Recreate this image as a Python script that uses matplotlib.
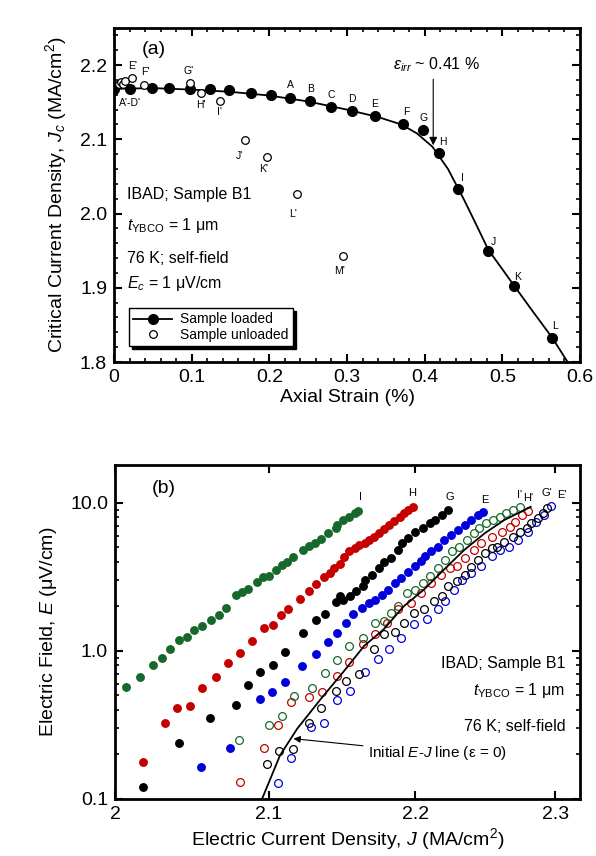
import matplotlib.pyplot as plt
import numpy as np
from matplotlib.ticker import MultipleLocator, FixedLocator, FixedFormatter, NullLocator, NullFormatter, LogLocator

plt.rcParams['font.family'] = ['Liberation Sans', 'DejaVu Sans']
plt.rcParams['mathtext.fontset'] = 'custom'
plt.rcParams['mathtext.rm'] = 'Liberation Sans'
plt.rcParams['mathtext.it'] = 'Liberation Sans:italic'
plt.rcParams['mathtext.bf'] = 'Liberation Sans:bold'

# ---------------- (a) Jc vs axial strain ----------------
strain_loaded = [0.000, 0.021, 0.049, 0.071, 0.098, 0.124, 0.148, 0.176, 0.202, 0.227, 0.252,
                 0.280, 0.306, 0.336, 0.372, 0.398, 0.418, 0.443, 0.482, 0.515, 0.564]
jc_loaded = [2.168, 2.168, 2.169, 2.169, 2.168, 2.168, 2.166, 2.163, 2.160, 2.156, 2.151,
             2.144, 2.138, 2.131, 2.121, 2.112, 2.081, 2.033, 1.950, 1.903, 1.833]

strain_unloaded = [0.006, 0.009, 0.012, 0.014, 0.023, 0.039, 0.098, 0.112, 0.136, 0.169, 0.197, 0.235, 0.295]
jc_unloaded = [2.174, 2.177, 2.175, 2.178, 2.182, 2.173, 2.176, 2.163, 2.152, 2.099, 2.076, 2.026, 1.943]

# fitted curve
strain_fit = [0.000, 0.05, 0.10, 0.15, 0.20, 0.25, 0.30, 0.34, 0.37, 0.39, 0.41, 0.43, 0.45,
              0.465, 0.482, 0.50, 0.515, 0.54, 0.564, 0.584]
jc_fit = [2.168, 2.169, 2.167, 2.164, 2.159, 2.151, 2.140, 2.130, 2.120, 2.108, 2.090, 2.060, 2.020,
          1.988, 1.951, 1.925, 1.903, 1.867, 1.833, 1.800]

strain_ticks = [0, 0.1, 0.2, 0.3, 0.4, 0.5, 0.6]
strain_ticklabels = ['0', '0.1', '0.2', '0.3', '0.4', '0.5', '0.6']
jc_ticks = [1.8, 1.9, 2.0, 2.1, 2.2]
jc_ticklabels = ['1.8', '1.9', '2.0', '2.1', '2.2']

# point labels (text, strain, Jc)
labels_a = [('A', 0.227, 2.173), ('B', 0.253, 2.168), ('C', 0.280, 2.160), ('D', 0.306, 2.154),
            ('E', 0.336, 2.147), ('F', 0.376, 2.137), ('G', 0.399, 2.129), ('H', 0.423, 2.096),
            ('I', 0.448, 2.048), ('J', 0.488, 1.962), ('K', 0.519, 1.915), ('L', 0.568, 1.848),
            ("E'", 0.024, 2.199), ("F'", 0.041, 2.191), ("G'", 0.096, 2.192), ("A'-D'", 0.021, 2.149),
            ("H'", 0.112, 2.146), ("I'", 0.136, 2.137), ("J'", 0.162, 2.078), ("K'", 0.192, 2.060),
            ("L'", 0.230, 2.000), ("M'", 0.290, 1.923)]

# ---------------- (b) E-J curves ----------------
J_I = [2.007, 2.016, 2.024, 2.030, 2.035, 2.041, 2.046, 2.051, 2.056, 2.062, 2.067, 2.072, 2.078, 2.082,
       2.086, 2.092, 2.096, 2.100, 2.105, 2.109, 2.112, 2.116, 2.123, 2.127, 2.131, 2.135, 2.140, 2.145,
       2.146, 2.150, 2.154, 2.158, 2.160]
E_I = [0.573, 0.666, 0.798, 0.893, 1.027, 1.192, 1.242, 1.377, 1.472, 1.624, 1.744, 1.956, 2.376, 2.489,
       2.623, 2.923, 3.138, 3.206, 3.518, 3.778, 3.981, 4.321, 4.764, 5.146, 5.390, 5.680, 6.231, 6.764,
       7.085, 7.655, 8.054, 8.569, 8.796]

J_H = [2.018, 2.032, 2.040, 2.048, 2.056, 2.065, 2.073, 2.081, 2.089, 2.097, 2.103, 2.108, 2.113, 2.121,
       2.127, 2.132, 2.137, 2.141, 2.144, 2.148, 2.151, 2.154, 2.158, 2.161, 2.165, 2.168, 2.171, 2.175,
       2.178, 2.182, 2.185, 2.189, 2.192, 2.195, 2.198]
E_H = [0.178, 0.327, 0.411, 0.427, 0.562, 0.669, 0.827, 0.961, 1.162, 1.420, 1.494, 1.736, 1.926, 2.247,
       2.527, 2.817, 3.138, 3.359, 3.628, 3.860, 4.300, 4.700, 4.943, 5.202, 5.390, 5.619, 5.858, 6.231,
       6.630, 7.085, 7.572, 8.054, 8.490, 8.933, 9.314]

J_G = [2.018, 2.041, 2.061, 2.078, 2.086, 2.094, 2.103, 2.111, 2.123, 2.132, 2.138, 2.145, 2.148, 2.150,
       2.155, 2.159, 2.164, 2.165, 2.170, 2.175, 2.178, 2.183, 2.188, 2.191, 2.195, 2.200, 2.205, 2.210,
       2.214, 2.219, 2.223]
E_G = [0.121, 0.238, 0.355, 0.432, 0.589, 0.725, 0.804, 0.980, 1.315, 1.615, 1.771, 2.133, 2.340, 2.223,
       2.340, 2.527, 2.731, 3.028, 3.272, 3.628, 3.957, 4.235, 4.815, 5.340, 5.768, 6.388, 6.733, 7.274,
       7.655, 8.270, 8.933]

J_E = [2.055, 2.074, 2.094, 2.102, 2.111, 2.122, 2.132, 2.140, 2.146, 2.152, 2.157, 2.163, 2.168, 2.172,
       2.177, 2.181, 2.186, 2.190, 2.195, 2.200, 2.204, 2.207, 2.211, 2.216, 2.220, 2.225, 2.230, 2.235,
       2.239, 2.244, 2.248]
E_E = [0.165, 0.221, 0.471, 0.528, 0.619, 0.786, 0.950, 1.156, 1.329, 1.535, 1.763, 1.956, 2.113, 2.223,
       2.402, 2.595, 2.878, 3.109, 3.390, 3.720, 4.018, 4.341, 4.690, 5.068, 5.619, 6.070, 6.558, 7.085,
       7.655, 8.270, 8.700]

J_Ip = [2.080, 2.100, 2.109, 2.117, 2.129, 2.138, 2.146, 2.154, 2.164, 2.172, 2.178, 2.183, 2.188, 2.194,
        2.200, 2.205, 2.210, 2.216, 2.221, 2.226, 2.231, 2.236, 2.241, 2.245, 2.250, 2.255, 2.260, 2.264,
        2.269, 2.274]
E_Ip = [0.249, 0.317, 0.363, 0.499, 0.562, 0.708, 0.866, 1.080, 1.230, 1.551, 1.600, 1.810, 2.005, 2.466,
        2.595, 2.878, 3.186, 3.628, 4.125, 4.690, 5.068, 5.619, 6.231, 6.733, 7.274, 7.655, 8.054, 8.490,
        8.933, 9.314]

J_Hp = [2.081, 2.097, 2.106, 2.115, 2.127, 2.136, 2.146, 2.154, 2.164, 2.172, 2.180, 2.188, 2.197, 2.204,
        2.211, 2.218, 2.224, 2.229, 2.235, 2.241, 2.246, 2.254, 2.261, 2.267, 2.271, 2.276, 2.280]
E_Hp = [0.131, 0.222, 0.314, 0.450, 0.487, 0.526, 0.673, 0.836, 1.109, 1.295, 1.551, 1.905, 2.113, 2.466,
        2.878, 3.272, 3.628, 3.720, 4.235, 4.815, 5.340, 5.913, 6.388, 6.901, 7.456, 8.270, 8.796]

J_Gp = [2.099, 2.107, 2.116, 2.127, 2.135, 2.145, 2.152, 2.161, 2.171, 2.178, 2.186, 2.192, 2.199, 2.206,
        2.213, 2.219, 2.223, 2.229, 2.235, 2.239, 2.244, 2.249, 2.254, 2.258, 2.263, 2.269, 2.274, 2.279,
        2.282, 2.287, 2.291, 2.294]
E_Gp = [0.171, 0.212, 0.217, 0.327, 0.411, 0.539, 0.629, 0.698, 1.027, 1.295, 1.341, 1.551, 1.810, 1.926,
        2.166, 2.340, 2.731, 2.950, 3.272, 3.685, 4.125, 4.575, 4.943, 5.068, 5.474, 5.913, 6.388, 6.733,
        7.274, 7.859, 8.490, 9.170]

J_Ep = [2.106, 2.115, 2.128, 2.137, 2.146, 2.155, 2.165, 2.174, 2.182, 2.190, 2.199, 2.208, 2.216, 2.221,
        2.227, 2.233, 2.239, 2.246, 2.254, 2.260, 2.266, 2.273, 2.280, 2.286, 2.292, 2.297]
E_Ep = [0.128, 0.190, 0.306, 0.327, 0.469, 0.534, 0.723, 0.884, 1.027, 1.230, 1.511, 1.632, 1.905, 2.166,
        2.595, 3.028, 3.359, 3.720, 4.341, 4.815, 5.068, 5.619, 6.388, 7.456, 8.270, 9.500]

# initial E-J line (strain = 0)
J_init = [2.0955, 2.1075, 2.119, 2.135, 2.151, 2.1645, 2.178, 2.192, 2.206, 2.220, 2.2345, 2.249,
          2.263, 2.2775, 2.282]
E_init = [0.100, 0.197, 0.298, 0.474, 0.736, 1.080, 1.398, 2.005, 2.595, 3.535, 4.815, 6.231,
          7.655, 8.933, 9.400]

J_ticks = [2.0, 2.1, 2.2, 2.3]
J_ticklabels = ['2', '2.1', '2.2', '2.3']
E_ticks = [0.1, 1.0, 10.0]
E_ticklabels = ['0.1', '1.0', '10.0']

labels_b = [('I', 2.162, 10.97), ('H', 2.198, 11.56), ('G', 2.224, 10.97), ('E', 2.249, 10.40),
            ("I'", 2.274, 11.27), ("H'", 2.2805, 10.75), ("G'", 2.294, 11.56), ("E'", 2.305, 11.27)]

green = '#17692b'
red = '#c40000'
blue = '#0000dc'

fig = plt.figure(figsize=(5.96, 8.56), dpi=100)

# ---------------- top panel ----------------
ax = fig.add_axes([0.1913, 0.5771, 0.7819, 0.3902])
for s in ['top', 'bottom', 'left', 'right']:
    ax.spines[s].set_linewidth(2)

ax.plot(strain_fit, jc_fit, color='k', lw=1.3, zorder=2)
ax.plot(strain_loaded, jc_loaded, 'o', color='k', ms=7, zorder=3)
ax.plot(strain_unloaded, jc_unloaded, 'o', mfc='white', mec='k', ms=5.5, mew=0.9, zorder=4)

for t, x, y in labels_a:
    ax.text(x, y, t, fontsize=7.5, ha='center', va='center')

ax.text(0.359, 2.2, r'$\varepsilon_{irr}$ ~ 0.41 %', fontsize=11.5, ha='left', va='center')
ax.annotate('', xy=(0.411, 2.092), xytext=(0.411, 2.181),
            arrowprops=dict(arrowstyle='-|>', color='k', lw=0.8, mutation_scale=12, shrinkA=0, shrinkB=0))

ax.text(0.028, 0.50, 'IBAD; Sample B1', transform=ax.transAxes, fontsize=11.5, va='center')
ax.text(0.028, 0.41, r'$t_{\mathrm{YBCO}}$ = 1 μm', transform=ax.transAxes, fontsize=11.5, va='center')
ax.text(0.028, 0.311, '76 K; self-field', transform=ax.transAxes, fontsize=11.5, va='center')
ax.text(0.028, 0.236, r'$E_c$ = 1 μV/cm', transform=ax.transAxes, fontsize=11.5, va='center')
ax.text(0.06, 0.935, '(a)', transform=ax.transAxes, fontsize=14, va='center')

h1, = ax.plot([], [], '-o', color='k', ms=7, lw=1.3)
h2, = ax.plot([], [], 'o', mfc='white', mec='k', ms=5.5, mew=0.9, lw=0)
leg = ax.legend([h1, h2], ['Sample loaded', 'Sample unloaded'], loc='lower left',
                bbox_to_anchor=(0.032, 0.048), borderaxespad=0, fontsize=10, fancybox=False,
                edgecolor='k', framealpha=1, handlelength=2.8, handletextpad=0.6, labelspacing=0.1,
                borderpad=0.3, shadow={'color': 'k', 'alpha': 1})
leg.get_frame().set_linewidth(1.0)

ax.set_xlim(0, 0.6)
ax.set_ylim(1.8, 2.25)
ax.xaxis.set_major_locator(FixedLocator(strain_ticks))
ax.xaxis.set_major_formatter(FixedFormatter(strain_ticklabels))
ax.xaxis.set_minor_locator(MultipleLocator(0.02))
ax.yaxis.set_major_locator(FixedLocator(jc_ticks))
ax.yaxis.set_major_formatter(FixedFormatter(jc_ticklabels))
ax.yaxis.set_minor_locator(MultipleLocator(0.02))
ax.tick_params(which='both', direction='in', top=True, right=True, labelsize=14)
ax.tick_params(which='major', length=6, width=1.5, pad=5)
ax.tick_params(which='minor', length=3, width=1.2)
ax.set_xlabel('Axial Strain (%)', fontsize=14, labelpad=2)
ax.set_ylabel(r'Critical Current Density, $J_c$ (MA/cm$^2$)', fontsize=14, labelpad=8)

# ---------------- bottom panel ----------------
bx = fig.add_axes([0.1930, 0.0666, 0.7802, 0.3902])
for s in ['top', 'bottom', 'left', 'right']:
    bx.spines[s].set_linewidth(2)
bx.set_xscale('log')
bx.set_yscale('log')

ms_f = 6.4
ms_o = 5.6
bx.plot(J_I, E_I, 'o', color=green, ms=ms_f, mew=0)
bx.plot(J_H, E_H, 'o', color=red, ms=ms_f, mew=0)
bx.plot(J_G, E_G, 'o', color='k', ms=ms_f, mew=0)
bx.plot(J_E, E_E, 'o', color=blue, ms=ms_f, mew=0)
bx.plot(J_Ep, E_Ep, 'o', mfc='none', mec=blue, ms=ms_o, mew=0.9)
bx.plot(J_Gp, E_Gp, 'o', mfc='none', mec='k', ms=ms_o, mew=0.9)
bx.plot(J_Hp, E_Hp, 'o', mfc='none', mec=red, ms=ms_o, mew=0.9)
bx.plot(J_Ip, E_Ip, 'o', mfc='none', mec=green, ms=ms_o, mew=0.9)
bx.plot(J_init, E_init, '-', color='k', lw=1.3)

for t, x, y in labels_b:
    bx.text(x, y, t, fontsize=8, ha='center', va='center')

bx.text(0.968, 0.406, 'IBAD; Sample B1', transform=bx.transAxes, fontsize=11.5, ha='right', va='center')
bx.text(0.968, 0.326, r'$t_{\mathrm{YBCO}}$ = 1 μm', transform=bx.transAxes, fontsize=11.5, ha='right', va='center')
bx.text(0.968, 0.2165, '76 K; self-field', transform=bx.transAxes, fontsize=11.5, ha='right', va='center')
bx.text(0.078, 0.93, '(b)', transform=bx.transAxes, fontsize=14, va='center')

bx.annotate(r'Initial $E$-$J$ line ($\mathrm{\varepsilon}$ = 0)', xy=(2.1165, 0.2555), xytext=(2.1675, 0.203),
            fontsize=11, ha='left', va='center',
            arrowprops=dict(arrowstyle='-|>', color='k', lw=0.8, mutation_scale=10, shrinkA=2, shrinkB=0))

bx.set_xlim(2.0, 2.318)
bx.set_ylim(0.1, 18)
bx.xaxis.set_major_locator(FixedLocator(J_ticks))
bx.xaxis.set_major_formatter(FixedFormatter(J_ticklabels))
bx.xaxis.set_minor_locator(NullLocator())
bx.yaxis.set_major_locator(FixedLocator(E_ticks))
bx.yaxis.set_major_formatter(FixedFormatter(E_ticklabels))
bx.yaxis.set_minor_locator(LogLocator(base=10, subs=np.arange(2, 10)))
bx.yaxis.set_minor_formatter(NullFormatter())
bx.tick_params(which='both', direction='in', top=True, right=True, labelsize=14)
bx.tick_params(which='major', length=6, width=1.5, pad=5)
bx.tick_params(which='minor', length=3, width=1.2)
bx.set_xlabel(r'Electric Current Density, $J$ (MA/cm$^2$)', fontsize=14, labelpad=2)
bx.set_ylabel(r'Electric Field, $E$ (μV/cm)', fontsize=14, labelpad=8)

fig.savefig('out.png', dpi=100)
